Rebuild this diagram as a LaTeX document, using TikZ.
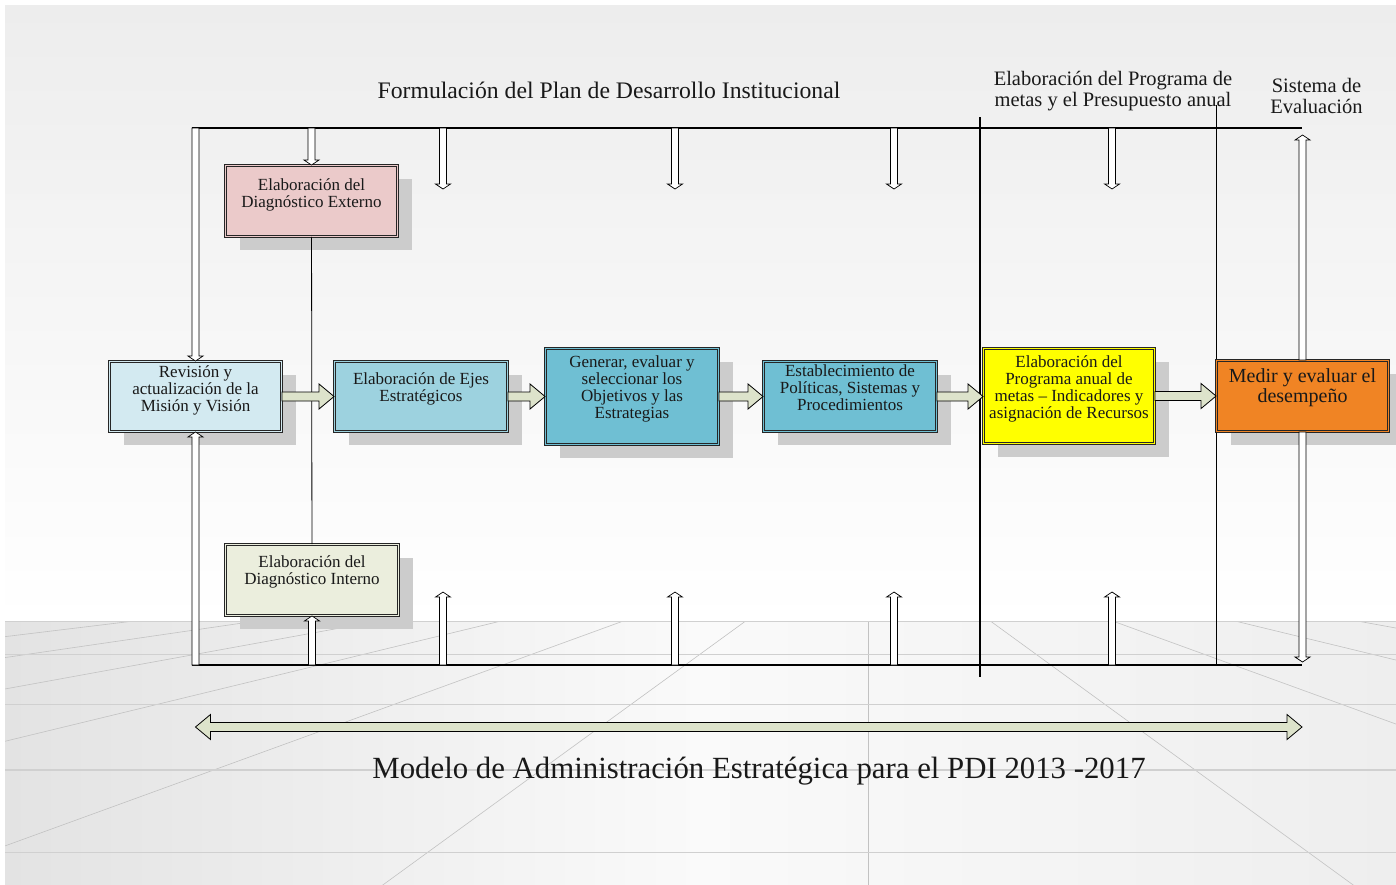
\documentclass[tikz,border=0pt]{standalone}
\usepackage{fontspec}
\setmainfont{Liberation Serif}
\usetikzlibrary{positioning,calc,shadows}

\definecolor{rosa}{HTML}{EBCACA}
\definecolor{celeste}{HTML}{D3EAF1}
\definecolor{turquesa}{HTML}{9DD2DF}
\definecolor{azul}{HTML}{6FBFD3}
\definecolor{amarillo}{HTML}{FFFF00}
\definecolor{naranja}{HTML}{F08424}
\definecolor{crema}{HTML}{EBEEDD}
\definecolor{verdoso}{HTML}{DDE3CB}
\definecolor{sombra}{HTML}{CCCCCC}
\definecolor{pared}{HTML}{EDEDED}
\definecolor{piso1}{HTML}{E3E3E3}
\definecolor{piso2}{HTML}{FAFAFA}
\definecolor{piso3}{HTML}{EEEEEE}
\definecolor{rejilla}{HTML}{C2C2C2}
\definecolor{linea}{HTML}{D0D0D0}

\begin{document}
\begin{tikzpicture}[x=1pt,y=-1pt,
        caja/.style={draw=black!85,fill=#1,double=#1,double distance=1.8pt,line width=0.9pt,
            drop shadow={shadow xshift=14.5pt,shadow yshift=-13pt,fill=sombra,opacity=1}},
        texto/.style={font=\fontsize{17}{17}\selectfont,align=center,inner sep=0pt,text=black!90},
        hueca/.style={draw=black,fill=white,line width=0.7pt,
            to path={let \p1=(\tikztostart),\p2=(\tikztotarget),\n1={ifthenelse(\y1>\y2,5,-5)} in
                ({\x1-3.5pt},\y1) -- ({\x1-3.5pt},{\y2+(\n1)*1pt}) -- ({\x1-7.5pt},{\y2+(\n1)*1pt}) -- (\x1,\y2)
                -- ({\x1+7.5pt},{\y2+(\n1)*1pt}) -- ({\x1+3.5pt},{\y2+(\n1)*1pt}) -- ({\x1+3.5pt},\y1) -- cycle}},
        bloque/.style={draw=black,fill=verdoso,line width=0.8pt,
            to path={let \p1=(\tikztostart),\p2=(\tikztotarget) in
                (\x1,{\y1+4.5pt}) -- ({\x2-15pt},{\y1+4.5pt}) -- ({\x2-15pt},{\y1+12.5pt}) -- (\x2,\y1)
                -- ({\x2-15pt},{\y1-12.5pt}) -- ({\x2-15pt},{\y1-4.5pt}) -- (\x1,{\y1-4.5pt}) -- cycle}},
        doble/.style={draw=black,fill=verdoso,line width=0.8pt,
            to path={let \p1=(\tikztostart),\p2=(\tikztotarget) in
                (\x1,\y1) -- ({\x1+15pt},{\y1+12.5pt}) -- ({\x1+15pt},{\y1+4.5pt}) -- ({\x2-15pt},{\y1+4.5pt})
                -- ({\x2-15pt},{\y1+12.5pt}) -- (\x2,\y1) -- ({\x2-15pt},{\y1-12.5pt}) -- ({\x2-15pt},{\y1-4.5pt})
                -- ({\x1+15pt},{\y1-4.5pt}) -- ({\x1+15pt},{\y1-12.5pt}) -- cycle}},
        marco/.style={line width=1.6pt}]
        \useasboundingbox (0,0) rectangle (1396,884);
        \fill[white] (0,0) rectangle (1396,884);
        \shade[top color=pared,bottom color=white] (5,5) rectangle (1396,621.7);
        \shade[left color=piso1,right color=piso3,middle color=piso2] (5,621.7) rectangle (1396,884);
        \begin{scope}
            \clip (5,621.7) rectangle (1396,884);
            \foreach \k in {-7,...,5}
                \draw[rejilla,line width=0.6pt] ({868+(\k)*123.3},621.7) -- ({868+(\k)*1233},1429);
            \foreach \y in {621.7,654.3,704.3,770,852.3}
                \draw[linea,line width=1.4pt] (5,\y) -- (1396,\y);
        \end{scope}

        \node[texto,font=\fontsize{23.7}{28}\selectfont] (formulacion) at (609,90) {Formulación del Plan de Desarrollo Institucional};
        \node[texto,font=\fontsize{20.5}{21}\selectfont] (programa) at (1113,91) {Elaboración del Programa de\\metas y el Presupuesto anual};
        \node[texto,font=\fontsize{20.5}{21}\selectfont] (sistema) at (1316.5,95.5) {Sistema de\\Evaluación};
        \node[texto,font=\fontsize{30.8}{36}\selectfont] (modelo) at (759,771.5) {Modelo de Administración Estratégica para el PDI 2013 -2017};

        \coordinate (si) at (192,128);
        \coordinate (sd) at (1302,128);
        \coordinate (ii) at (192,665);
        \coordinate (id) at (1302,665);
        \draw[marco] (si) -- (sd);
        \draw[marco] (ii) -- (id);

        \foreach \x/\i in {443/1,675/2,894/3,1112/4} {
            \coordinate (sup\i) at (\x,128);
            \coordinate (sup\i-p) at (\x,189);
            \coordinate (inf\i) at (\x,665);
            \coordinate (inf\i-p) at (\x,592);
            \draw[hueca] (sup\i) to (sup\i-p);
            \draw[hueca] (inf\i) to (inf\i-p);
        }

        \coordinate (corte1a) at (980,117);
        \coordinate (corte1b) at (980,677);
        \coordinate (corte2a) at (1216,105);
        \coordinate (corte2b) at (1216,665);
        \draw[line width=1.5pt] (corte1a) -- (corte1b);
        \draw[line width=1pt] (corte2a) -- (corte2b);

        \node[caja=celeste,minimum width=172,minimum height=70] (rev) at (195.5,396.5) {};
        \node[caja=rosa,minimum width=172,minimum height=71] (ext) at (311.5,201) {};
        \node[caja=crema,minimum width=173,minimum height=71] (int) at (312,580) {};
        \node[caja=turquesa,minimum width=173,minimum height=70] (ejes) at (421,396.5) {};
        \node[caja=azul,minimum width=173,minimum height=96] (gen) at (632,396.5) {};
        \node[caja=azul,minimum width=173,minimum height=70] (est) at (850,396.5) {};
        \node[caja=amarillo,minimum width=171,minimum height=95] (prog) at (1069,396) {};
        \node[caja=naranja,minimum width=172,minimum height=71] (med) at (1302.5,396) {};

        \coordinate (tope) at (1302.5,135);
        \coordinate (fondo) at (1302.5,662);
        \draw[hueca] (rev.north |- si) to (rev.north);
        \draw[hueca] (rev.south |- ii) to (rev.south);
        \draw[hueca] (ext.north |- si) to (ext.north);
        \draw[hueca] (int.south |- ii) to (int.south);
        \draw[hueca] (med.north) to (tope);
        \draw[hueca] (med.south) to (fondo);
        \draw[line width=0.8pt] (ext) -- (int);

        \draw[bloque] (rev.east) to (ejes.west);
        \draw[bloque] (ejes.east) to (gen.west);
        \draw[bloque] (gen.east) to (est.west);
        \draw[bloque] (est.east) to (prog.west);
        \draw[bloque] (prog.east) to (med.west);

        \coordinate (fl-i) at (195.5,727);
        \coordinate (fl-d) at (1302,727);
        \draw[doble] (fl-i) to (fl-d);

        \node[texto,below=4pt of rev.north] (rev-t) {Revisión y\\actualización de la\\Misión y Visión};
        \node[texto,below=13pt of ext.north] (ext-t) {Elaboración del\\Diagnóstico Externo};
        \node[texto,below=11pt of int.north] (int-t) {Elaboración del\\Diagnóstico Interno};
        \node[texto,below=11pt of ejes.north] (ejes-t) {Elaboración de Ejes\\Estratégicos};
        \node[texto,below=7pt of gen.north] (gen-t) {Generar, evaluar y\\seleccionar los\\Objetivos y las\\Estrategias};
        \node[texto,below=3pt of est.north] (est-t) {Establecimiento de\\Políticas, Sistemas y\\Procedimientos};
        \node[texto,below=7pt of prog.north] (prog-t) {Elaboración del\\Programa anual de\\metas – Indicadores y\\asignación de Recursos};
        \node[texto,font=\fontsize{20}{20}\selectfont,below=8pt of med.north] (med-t) {Medir y evaluar el\\desempeño};
    \end{tikzpicture}
\end{document}
